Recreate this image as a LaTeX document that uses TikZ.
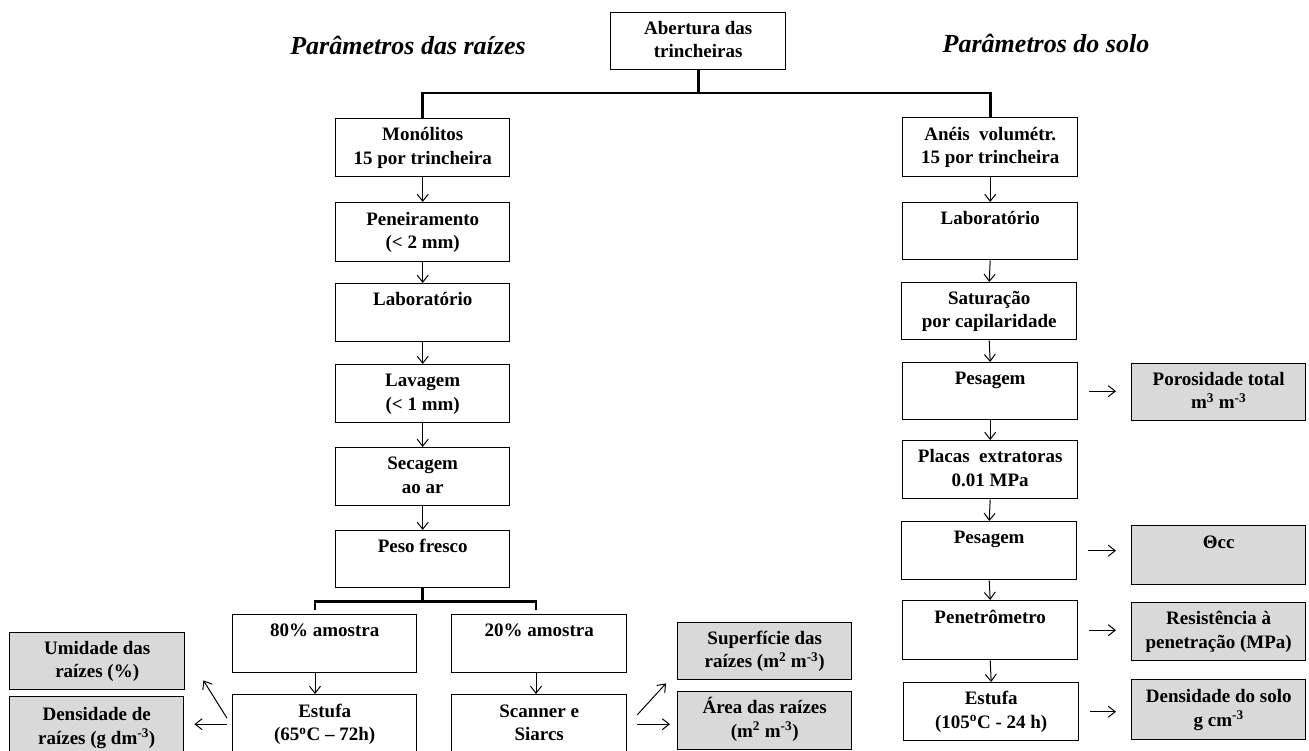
\documentclass[tikz,border=0pt]{standalone}
\usepackage{fontspec}
\setmainfont{Liberation Serif}
\usetikzlibrary{arrows.meta}
\definecolor{boxgray}{HTML}{D9D9D9}
\newcommand{\tl}[2]{\strut #1\\\strut #2}
\begin{document}
\begin{tikzpicture}[x=1pt,y=-1pt,
  box/.style={draw=black, line width=1.4pt, fill=white, minimum width=175pt, minimum height=58pt,
    inner sep=0pt, align=center, anchor=north west, font=\fontsize{19}{23.5}\selectfont\bfseries},
  gbox/.style={box, fill=boxgray, minimum width=174pt},
  arr/.style={line width=1pt, -{Straight Barb[length=7pt,width=11pt]}},
  trunk/.style={line width=2.7pt},
  ttl/.style={font=\fontsize{26}{30}\selectfont\bfseries\itshape, inner sep=0pt}]
\useasboundingbox (0,0) rectangle (1309,751);

% titles
\node[ttl] (t1) at (408,45) {Parâmetros das raízes};
\node[ttl] (t2) at (1046,43) {Parâmetros do solo};

% top
\node[box, minimum height=57pt] (aber) at (610,12) {\tl{Abertura das}{trincheiras}};

% left column
\node[box, minimum width=174pt] (mono) at (335,118) {\tl{Monólitos}{15 por trincheira}};
\node[box, minimum width=174pt, minimum height=59pt] (pen) at (335,202) {\tl{Peneiramento}{(< 2 mm)}};
\node[box, minimum width=174pt] (lab) at (335,283) {\tl{Laboratório}{}};
\node[box, minimum width=174pt] (lav) at (335,364) {\tl{Lavagem}{(< 1 mm)}};
\node[box, minimum width=174pt] (sec) at (335,447) {\tl{Secagem}{ao ar}};
\node[box, minimum width=174pt, minimum height=57pt] (peso) at (335,530) {\tl{Peso fresco}{}};
\node[box, minimum width=184pt] (a80) at (232,614) {\tl{80\% amostra}{}};
\node[box] (a20) at (451,614) {\tl{20\% amostra}{}};
\node[box, minimum width=184pt, minimum height=59pt] (est) at (232,694) {\tl{Estufa}{(65\textsuperscript{o}C – 72h)}};
\node[box, minimum height=59pt] (scan) at (451,694) {\tl{Scanner e}{Siarcs}};
\node[gbox, minimum width=175pt, minimum height=57pt] (umi) at (9,632) {\tl{Umidade das}{raízes (\%)}};
\node[gbox, minimum height=62pt] (dens) at (9,696) {\tl{Densidade de}{raízes (g dm\textsuperscript{-3})}};
\node[gbox, minimum height=57pt] (sup) at (677,622) {\tl{Superfície das}{raízes (m\textsuperscript{2} m\textsuperscript{-3})}};
\node[gbox] (area) at (677,691) {\tl{Área das raízes}{(m\textsuperscript{2} m\textsuperscript{-3})}};

% right column
\node[box, minimum height=59pt] (aneis) at (902,117) {\tl{Anéis\ \ volumétr.}{15 por trincheira}};
\node[box, minimum height=57pt] (lab2) at (902,202) {\tl{Laboratório}{}};
\node[box, minimum height=57pt] (sat) at (901,282) {\tl{Saturação}{por capilaridade}};
\node[box, minimum height=57pt] (pes1) at (902,362) {\tl{Pesagem}{}};
\node[box] (plac) at (902,440) {\tl{Placas\ \ extratoras}{0.01 MPa}};
\node[box] (pes2) at (901,521) {\tl{Pesagem}{}};
\node[box, minimum height=59pt] (penet) at (902,600) {\tl{Penetrômetro}{}};
\node[box] (est2) at (903,682) {\tl{Estufa}{(105\textsuperscript{o}C - 24 h)}};
\node[gbox, minimum height=57pt] (por) at (1131,363) {\tl{Porosidade total}{m\textsuperscript{3} m\textsuperscript{-3}}};
\node[gbox, minimum height=59pt] (theta) at (1131,525) {\tl{Θcc}{}};
\node[gbox] (res) at (1131,602) {\tl{Resistência à}{penetração (MPa)}};
\node[gbox, minimum height=60pt] (dsolo) at (1131,679) {\tl{Densidade do solo}{g cm\textsuperscript{-3}}};

% top branching
\coordinate (top) at (698,93);
\draw[trunk] (aber.south) -- (aber.south |- top);
\draw[trunk] (mono.north) |- (top) -| (aneis.north);

% lower branching
\coordinate (bm) at ([yshift=-13pt]peso.south);
\coordinate (bl) at (315,610);
\coordinate (br) at (536,610);
\draw[trunk] (peso.south) -- (bm);
\draw[trunk] (bl) |- (bm) -| (br);

% vertical arrows left
\draw[arr] (mono.south) -- (pen.north);
\draw[arr] (pen.south) -- (lab.north);
\draw[arr] (lab.south) -- (lav.north);
\draw[arr] (lav.south) -- (sec.north);
\draw[arr] (sec.south) -- (peso.north);
\draw[arr] (a80.south -| bl) -- (est.north -| bl);
\draw[arr] (a20.south -| br) -- (scan.north -| br);

% vertical arrows right
\draw[arr] (aneis.south) -- (lab2.north);
\draw[arr] (lab2.south) -- (sat.north);
\draw[arr] (sat.south) -- (pes1.north);
\draw[arr] (pes1.south) -- (plac.north);
\draw[arr] (plac.south) -- (pes2.north);
\draw[arr] (pes2.south) -- (penet.north);
\draw[arr] (penet.south) -- (est2.north);

% side arrows right
\draw[arr, shorten <=11pt, shorten >=15pt] (pes1.east) -- (pes1.east -| por.west);
\draw[arr, shorten <=11pt, shorten >=15pt] (pes2.east) -- (pes2.east -| theta.west);
\draw[arr, shorten <=11pt, shorten >=15pt] (penet.east) -- (penet.east -| res.west);
\draw[arr, shorten <=11pt, shorten >=15pt] (est2.east) -- (est2.east -| dsolo.west);

% side arrows bottom left
\draw[arr, shorten <=5pt, shorten >=10pt] (est.west) -- (est.west -| dens.east);
\draw[arr] ([shift={(-5,-6)}]est.west) -- ([shift={(18,-10)}]umi.south east);

% side arrows scanner
\draw[arr, shorten <=10pt, shorten >=7pt] (scan.east) -- (scan.east -| area.west);
\draw[arr] ([shift={(10,-9.5)}]scan.east) -- ([shift={(-11,3)}]sup.south west);
\end{tikzpicture}
\end{document}
